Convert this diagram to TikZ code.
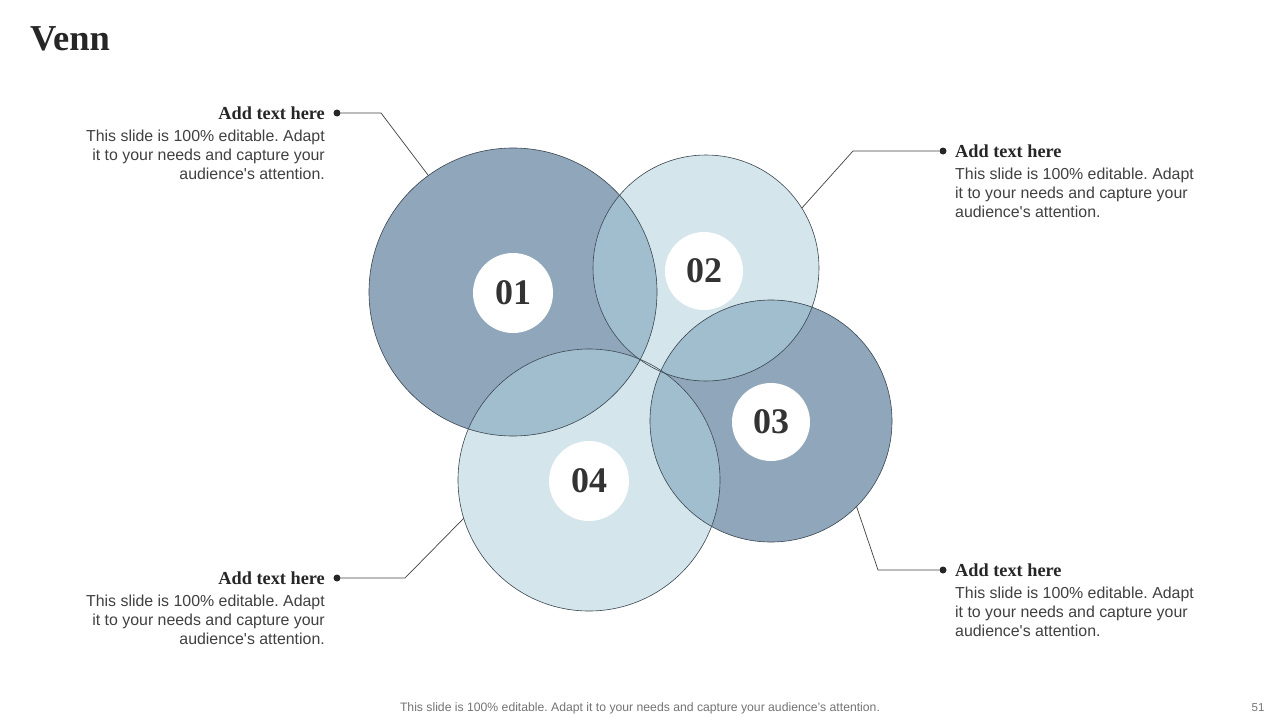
\documentclass[tikz,border=0pt]{standalone}
\usepackage{fontspec}
\setmainfont{Liberation Sans}
\newfontfamily\serifbold{Liberation Serif}
\usetikzlibrary{positioning}
\frenchspacing

\definecolor{vdark}{HTML}{8FA6BB}
\definecolor{vlight}{HTML}{D4E5EB}
\definecolor{vmix}{HTML}{A1BECE}
\definecolor{txtgray}{HTML}{404040}
\definecolor{ringline}{HTML}{3A4550}

\tikzset{
  ring/.style={circle, draw=ringline, line width=0.6pt, inner sep=0pt, outer sep=0pt},
  badge/.style={circle, fill=white, minimum size=80pt, inner sep=0pt,
    font=\serifbold\bfseries\fontsize{36}{36}\selectfont, text=black!80},
  head/.style={inner sep=0pt, font=\serifbold\bfseries\fontsize{18.3}{20}\selectfont, text=black!85},
  body/.style={inner sep=0pt, font=\fontsize{15.9}{19}\selectfont, text=txtgray},
  leader/.style={draw=txtgray, line width=0.7pt},
  dot/.style={circle, fill=black!85, inner sep=0pt, minimum size=7pt},
}

\begin{document}
\begin{tikzpicture}[x=1pt, y=-1pt]
  \useasboundingbox (0,0) rectangle (1280,720);

  % Title
  \node[anchor=base west, inner sep=0pt, font=\serifbold\bfseries\fontsize{36.5}{36}\selectfont,
    text=black!85] (title) at (30,50) {Venn};

  % Circle centres
  \coordinate (o1) at (513,292);
  \coordinate (o2) at (706,268);
  \coordinate (o3) at (771,421);
  \coordinate (o4) at (589,480);

  % Circle fills
  \fill[vdark] (o1) circle (144pt);
  \fill[vlight] (o2) circle (113pt);
  \fill[vdark] (o3) circle (121pt);
  \fill[vlight] (o4) circle (131pt);

  % Overlaps
  \begin{scope}
    \clip (o1) circle (144pt);
    \fill[vmix] (o2) circle (113pt);
    \fill[vmix] (o4) circle (131pt);
  \end{scope}
  \begin{scope}
    \clip (o3) circle (121pt);
    \fill[vmix] (o2) circle (113pt);
    \fill[vmix] (o4) circle (131pt);
  \end{scope}

  % Circle outlines
  \node[ring, minimum size=288pt] (c1) at (o1) {};
  \node[ring, minimum size=226pt] (c2) at (o2) {};
  \node[ring, minimum size=242pt] (c3) at (o3) {};
  \node[ring, minimum size=262pt] (c4) at (o4) {};

  % Number badges
  \node[badge] (n1) at (513,293) {01};
  \node[badge, minimum size=78pt] (n2) at (704,271) {02};
  \node[badge, minimum size=78pt] (n3) at (771,422) {03};
  \node[badge] (n4) at (589,481) {04};

  % Top left callout
  \node[dot] (d1) at (337,113) {};
  \coordinate (k1) at (381,113);
  \draw[leader] (d1) -- (k1) -- (c1.126);
  \node[head, anchor=base east] (h1) at (325,119) {Add text here};
  \node[body, below=10pt of h1.south east, anchor=north east, align=right] (b1)
    {This slide is 100\% editable. Adapt\\it to your needs and capture your\\audience\textquotesingle s attention.};

  % Top right callout
  \node[dot] (d2) at (943,151) {};
  \coordinate (k2) at (853,151);
  \draw[leader] (d2) -- (k2) -- (c2.32);
  \node[head, anchor=base west] (h2) at (955,157) {Add text here};
  \node[body, below=10pt of h2.south west, anchor=north west, align=left] (b2)
    {This slide is 100\% editable. Adapt\\it to your needs and capture your\\audience\textquotesingle s attention.};

  % Bottom right callout
  \node[dot] (d3) at (943,570) {};
  \coordinate (k3) at (878,570);
  \draw[leader] (d3) -- (k3) -- (c3.-45);
  \node[head, anchor=base west] (h3) at (955,576) {Add text here};
  \node[body, below=10pt of h3.south west, anchor=north west, align=left] (b3)
    {This slide is 100\% editable. Adapt\\it to your needs and capture your\\audience\textquotesingle s attention.};

  % Bottom left callout
  \node[dot] (d4) at (337,578) {};
  \coordinate (k4) at (405,578);
  \draw[leader] (d4) -- (k4) -- (c4.197);
  \node[head, anchor=base east] (h4) at (325,584) {Add text here};
  \node[body, below=10pt of h4.south east, anchor=north east, align=right] (b4)
    {This slide is 100\% editable. Adapt\\it to your needs and capture your\\audience\textquotesingle s attention.};

  % Footer
  \node[font=\fontsize{12.2}{14}\selectfont, text=black!55] (foot) at (640,708)
    {This slide is 100\% editable. Adapt it to your needs and capture your audience's attention.};
  \node[font=\fontsize{11.5}{14}\selectfont, text=black!55] (page) at (1258,708) {51};
\end{tikzpicture}
\end{document}
